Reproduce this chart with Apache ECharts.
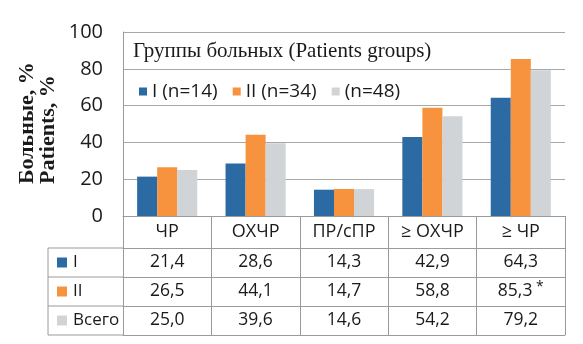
<!DOCTYPE html>
<html><head><meta charset="utf-8">
<script src="https://cdn.jsdelivr.net/npm/echarts@6/dist/echarts.min.js"></script>
<style>html,body{margin:0;padding:0;background:#fff}#c{width:583px;height:344px}</style>
</head><body><div id="c"></div>
<script>
const categories = ['ЧР', 'ОХЧР', 'ПР/сПР', '≥ ОХЧР', '≥ ЧР'];
const seriesNames = ['I (n=14)', 'II (n=34)', '(n=48)'];
const rowNames = ['I', 'II', 'Всего'];
const groupI = [21.4, 28.6, 14.3, 42.9, 64.3];
const groupII = [26.5, 44.1, 14.7, 58.8, 85.3];
const total = [25.0, 39.6, 14.6, 54.2, 79.2];
const notesII = ['', '', '', '', '*'];
const yTicks = [0, 20, 40, 60, 80, 100];
const colors = ['#2b6aa3', '#f7923f', '#d1d4d6'];
const title = 'Группы больных (Patients groups)';
const yTitle = ['Больные, %', 'Patients, %'];

const G = {left: 123, right: 18, top: 32, bottom: 128};
const rowH = 29, headH = 32;
const sans = '"Open Sans", sans-serif';
const ink = '#1a1a1a';
const fmt = v => v.toFixed(1).replace('.', ',');
const valuesRows = [groupI, groupII, total];
const notesRows = [['', '', '', '', ''], notesII, ['', '', '', '', '']];

const chart = echarts.init(document.getElementById('c'));
const xAxes = [{
  type: 'category', data: categories, gridIndex: 0, position: 'bottom', offset: 0,
  axisLine: {lineStyle: {color: '#9a9a9a', width: 1}},
  axisTick: {show: true, length: headH + 3 * rowH, lineStyle: {color: '#9a9a9a'}},
  axisLabel: {color: ink, fontFamily: sans, fontSize: 18, margin: 16, verticalAlign: 'middle'}
}];
valuesRows.forEach((vals, r) => {
  xAxes.push({
    type: 'category', gridIndex: 0, position: 'bottom', offset: headH + r * rowH,
    data: vals.map((v, i) => notesRows[r][i] ? '{v|' + fmt(v) + '}{s| ' + notesRows[r][i] + '}' : '{v|' + fmt(v) + '}'),
    axisLine: {show: true, lineStyle: {color: '#9a9a9a'}},
    axisTick: {show: false},
    axisLabel: {margin: 14, verticalAlign: 'middle', interval: 0,
      rich: {v: {color: ink, fontFamily: sans, fontSize: 17.5}, s: {color: ink, fontFamily: sans, fontSize: 14, verticalAlign: 'top', padding: [0, 0, 7, 0]}}}
  });
});
xAxes.push({
  type: 'category', gridIndex: 0, position: 'bottom', offset: headH + 3 * rowH, data: categories,
  axisLine: {show: true, lineStyle: {color: '#9a9a9a'}}, axisTick: {show: false}, axisLabel: {show: false}
});

const graphics = [];
const y0 = 344 - G.bottom + headH;
const lx = 48, rx = G.left;
for (let r = 0; r <= 3; r++) {
  graphics.push({type: 'line', shape: {x1: lx, y1: y0 + r * rowH, x2: rx, y2: y0 + r * rowH}, style: {stroke: '#9a9a9a', lineWidth: 1}});
}
graphics.push({type: 'line', shape: {x1: lx, y1: y0, x2: lx, y2: y0 + 3 * rowH}, style: {stroke: '#9a9a9a', lineWidth: 1}});
rowNames.forEach((n, r) => {
  const cy = y0 + r * rowH + rowH / 2;
  graphics.push({type: 'rect', shape: {x: 57, y: cy - 5, width: 10, height: 10}, style: {fill: colors[r]}});
  graphics.push({type: 'text', x: 73, y: cy, style: {text: n, fill: ink, font: '17px ' + sans, textVerticalAlign: 'middle'}});
});
graphics.push({type: 'text', rotation: Math.PI / 2, x: 17, y: 184,
  style: {text: yTitle.join('\n'), fill: ink, font: 'bold 22px "Liberation Serif", serif', lineHeight: 21, textAlign: 'left', textVerticalAlign: 'top'}});
graphics.push({type: 'text', x: 133, y: 51, style: {text: title, fill: ink, font: '21px "Liberation Serif", serif', textVerticalAlign: 'middle'}});

chart.setOption({
  animation: false,
  color: colors,
  grid: G,
  legend: {left: 134, top: 77, itemWidth: 8, itemHeight: 8, itemGap: 15, icon: 'rect',
    textStyle: {color: ink, fontFamily: sans, fontSize: 19}, data: seriesNames},
  xAxis: xAxes,
  yAxis: {type: 'value', min: yTicks[0], max: yTicks[yTicks.length - 1], interval: yTicks[1] - yTicks[0],
    axisLine: {show: true, lineStyle: {color: '#9a9a9a'}},
    axisTick: {show: false},
    axisLabel: {color: ink, fontFamily: sans, fontSize: 20, margin: 20},
    splitLine: {lineStyle: {color: '#a8a8a8', width: 1.2}}},
  graphic: graphics,
  series: [groupI, groupII, total].map((d, i) => ({
    type: 'bar', name: seriesNames[i], data: d, barGap: '0%', barCategoryGap: '32%', xAxisIndex: 0
  }))
});
</script></body></html>
